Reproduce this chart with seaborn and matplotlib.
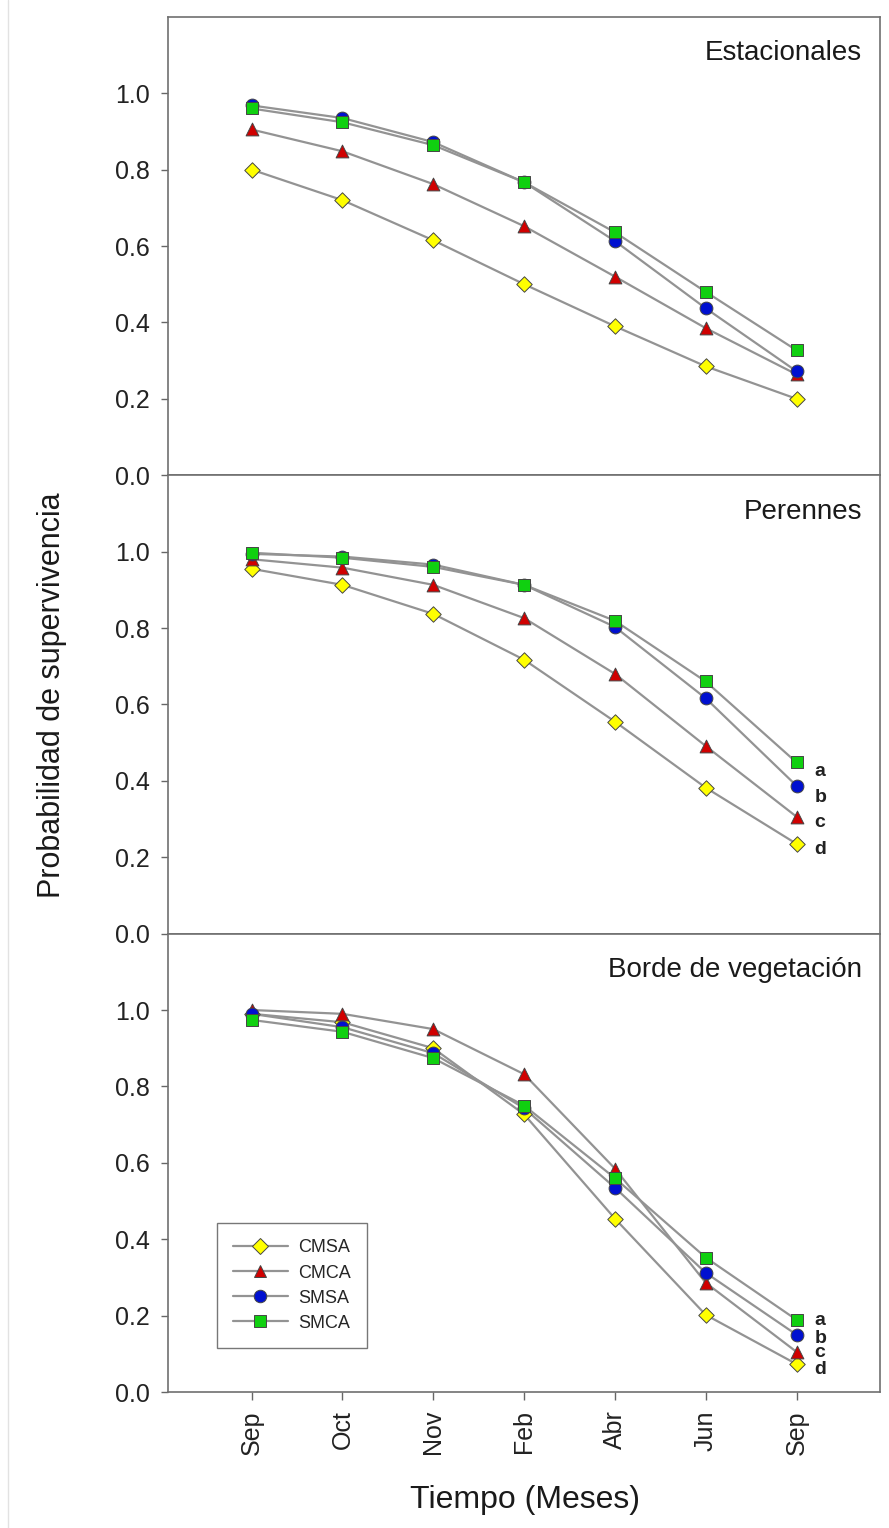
import matplotlib
matplotlib.use("Agg")
import matplotlib.pyplot as plt
from matplotlib.lines import Line2D
import seaborn as sns
import pandas as pd
import numpy as np

months = ["Sep", "Oct", "Nov", "Feb", "Abr", "Jun", "Sep"]
treatments = ["CMSA", "CMCA", "SMSA", "SMCA"]
panels = ["Estacionales", "Perennes", "Borde de vegetación"]

est_CMSA = [0.80, 0.72, 0.615, 0.50, 0.39, 0.285, 0.20]
est_CMCA = [0.905, 0.848, 0.762, 0.652, 0.52, 0.385, 0.264]
est_SMSA = [0.968, 0.935, 0.872, 0.767, 0.613, 0.437, 0.272]
est_SMCA = [0.960, 0.924, 0.864, 0.767, 0.636, 0.480, 0.327]

per_CMSA = [0.955, 0.913, 0.837, 0.717, 0.555, 0.382, 0.235]
per_CMCA = [0.980, 0.958, 0.913, 0.826, 0.680, 0.491, 0.306]
per_SMSA = [0.994, 0.987, 0.966, 0.913, 0.803, 0.616, 0.387]
per_SMCA = [0.997, 0.984, 0.960, 0.913, 0.819, 0.660, 0.448]

bor_CMSA = [0.99, 0.968, 0.900, 0.727, 0.454, 0.202, 0.073]
bor_CMCA = [1.00, 0.990, 0.950, 0.832, 0.585, 0.286, 0.105]
bor_SMSA = [0.99, 0.955, 0.887, 0.743, 0.535, 0.312, 0.150]
bor_SMCA = [0.974, 0.943, 0.874, 0.750, 0.560, 0.352, 0.189]

letters = ["a", "b", "c", "d"]
per_letter_y = [0.425, 0.355, 0.290, 0.220]
bor_letter_y = [0.188, 0.140, 0.103, 0.060]

data = {
    "Estacionales": [est_CMSA, est_CMCA, est_SMSA, est_SMCA],
    "Perennes": [per_CMSA, per_CMCA, per_SMSA, per_SMCA],
    "Borde de vegetación": [bor_CMSA, bor_CMCA, bor_SMSA, bor_SMCA],
}

rows = []
for p in panels:
    for t, vals in zip(treatments, data[p]):
        for i, v in enumerate(vals):
            rows.append({"panel": p, "trt": t, "x": i, "val": v})
df = pd.DataFrame(rows)

sns.set_theme(style="white")
plt.rcParams["font.family"] = ["Liberation Sans", "DejaVu Sans"]

colors = {"CMSA": "#FFFF00", "CMCA": "#D00000", "SMSA": "#0010D0", "SMCA": "#10D010"}
markers = {"CMSA": "D", "CMCA": "^", "SMSA": "o", "SMCA": "s"}
sizes = {"CMSA": 62, "CMCA": 85, "SMSA": 85, "SMCA": 75}
line_gray = "#939393"

fig = plt.figure(figsize=(8.89, 15.28), dpi=100)
left, right, top, bottom = 0.189, 0.990, 0.989, 0.089
h = (top - bottom) / 3
axes = []
for k in range(3):
    ax = fig.add_axes([left, top - (k + 1) * h, right - left, h])
    axes.append(ax)

for k, (ax, p) in enumerate(zip(axes, panels)):
    sub = df[df.panel == p]
    for t in treatments:
        st = sub[sub.trt == t]
        sns.lineplot(data=st, x="x", y="val", ax=ax, color=line_gray,
                     linewidth=1.6, legend=False, zorder=2)
    for t in treatments:
        st = sub[sub.trt == t]
        sns.scatterplot(data=st, x="x", y="val", ax=ax, color=colors[t],
                        marker=markers[t], s=sizes[t], edgecolor="#454545",
                        linewidth=0.7, legend=False, zorder=3)
    ax.set_xlim(-0.92, 6.92)
    ax.set_ylim(0, 1.2)
    ax.set_yticks(np.arange(0, 1.01, 0.2))
    ax.set_yticklabels([f"{v:.1f}" for v in np.arange(0, 1.01, 0.2)], fontsize=18)
    ax.tick_params(axis="y", direction="out", length=5, width=1, color="#666666",
                   left=True, pad=8, labelcolor="#222222")
    ax.set_xlabel("")
    ax.set_ylabel("")
    for s in ax.spines.values():
        s.set_color("#707070")
        s.set_linewidth(1.2)
    ax.text(0.975, 0.92, p, transform=ax.transAxes, ha="right", va="center",
            fontsize=20, color="#1a1a1a")
    if k < 2:
        ax.set_xticks([])
    else:
        ax.set_xticks(range(len(months)))
        ax.set_xticklabels(months, rotation=90, fontsize=18)
        ax.tick_params(axis="x", direction="out", length=6, width=1,
                       color="#666666", bottom=True, pad=7, labelcolor="#222222")

for ly, lt in zip(per_letter_y, letters):
    axes[1].text(6.2, ly, lt, fontsize=14, ha="left", va="center",
                 fontweight="bold", color="#222222")
for ly, lt in zip(bor_letter_y, letters):
    axes[2].text(6.2, ly, lt, fontsize=14, ha="left", va="center",
                 fontweight="bold", color="#222222")

handles = [Line2D([0], [0], color=line_gray, linewidth=1.6, marker=markers[t],
                  markerfacecolor=colors[t], markeredgecolor="#454545",
                  markeredgewidth=0.7, markersize=9 if t != "CMSA" else 8)
           for t in treatments]
leg = axes[2].legend(handles, treatments, loc="lower left",
                     bbox_to_anchor=(0.069, 0.096), frameon=True, fontsize=13,
                     handlelength=3.0, handletextpad=0.6, borderpad=0.9,
                     labelspacing=0.45, borderaxespad=0,
                     fancybox=False, edgecolor="#555555")
leg.get_frame().set_linewidth(1.0)

fig.text(0.058, 0.545, "Probabilidad de supervivencia", rotation=90,
         ha="center", va="center", fontsize=22, color="#1a1a1a")
fig.text(0.59, 0.018, "Tiempo (Meses)", ha="center", va="center",
         fontsize=23, color="#1a1a1a")

fig.add_artist(Line2D([0.009, 0.009], [0.0, 1.0], transform=fig.transFigure,
                      color="#e2e2e2", linewidth=1.0))

fig.savefig("out.png", dpi=100)
